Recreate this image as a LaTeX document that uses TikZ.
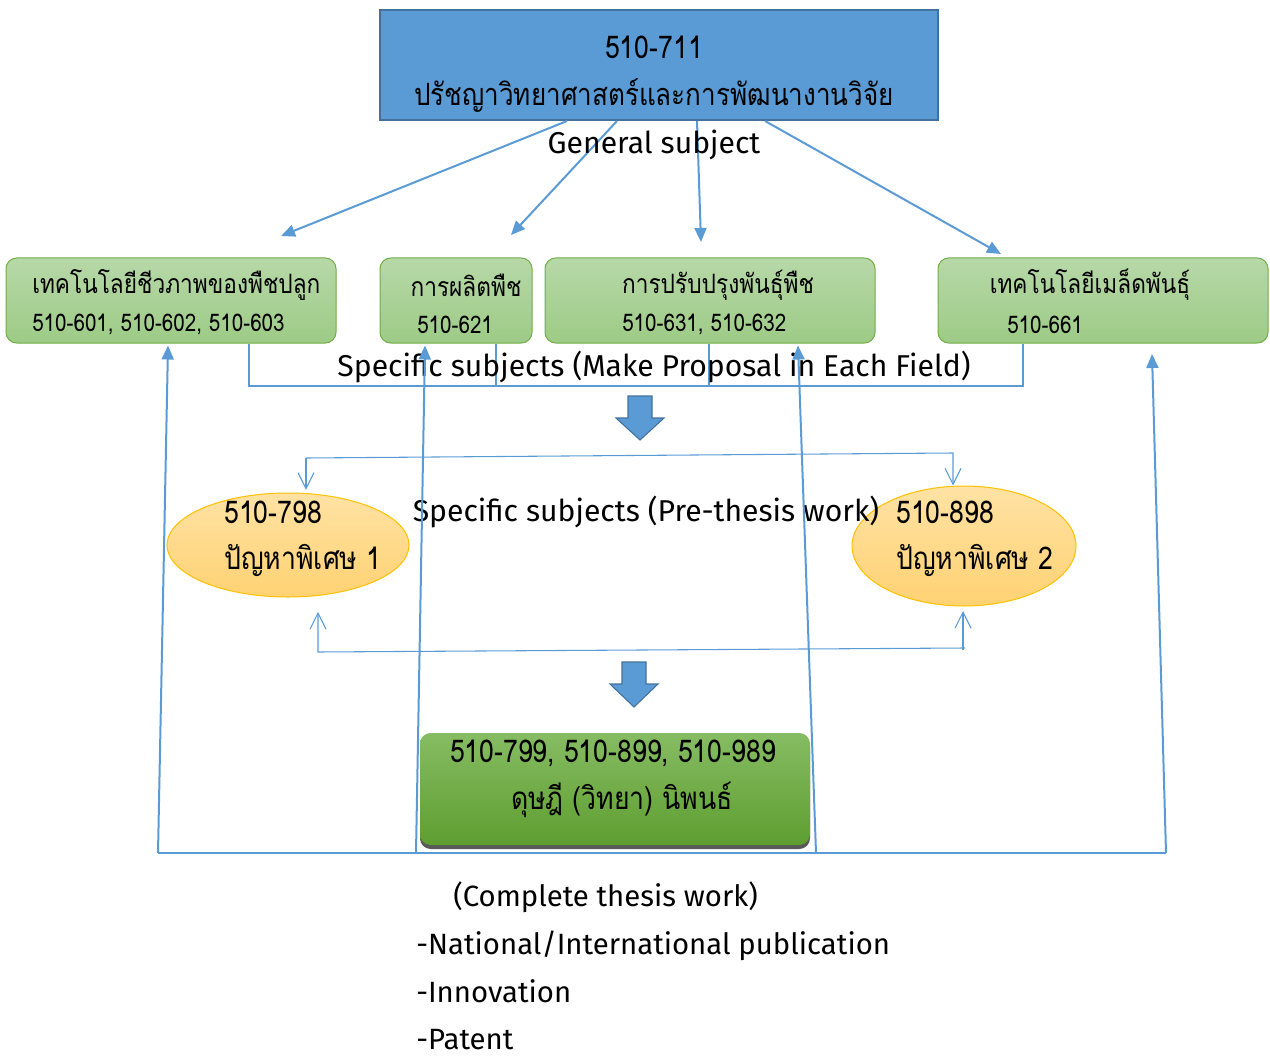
\documentclass[tikz,border=0pt]{standalone}
\usepackage{fontspec}
\setmainfont[Script=Thai,FakeStretch=0.85]{Loma}
\newfontfamily\latfont{Fira Sans}
\usetikzlibrary{arrows.meta,shadows,shapes.geometric}
\definecolor{accblue}{HTML}{5B9BD5}
\definecolor{accblued}{HTML}{41719C}
\definecolor{gtop}{HTML}{B7D8A8}
\definecolor{gbot}{HTML}{9DCB86}
\definecolor{gline}{HTML}{70AD47}
\definecolor{otop}{HTML}{FFE2A4}
\definecolor{obot}{HTML}{FFD273}
\definecolor{oline}{HTML}{FFC000}
\definecolor{dgtop}{HTML}{86BC63}
\definecolor{dgbot}{HTML}{5E9E30}
\tikzset{
  txt/.style={inner sep=0pt, font=\fontsize{20}{24}\selectfont},
  bigtxt/.style={inner sep=0pt, font=\fontsize{23.5}{28}\selectfont},
  numtxt/.style={inner sep=0pt, font=\fontsize{18.2}{22}\selectfont},
  lattxt/.style={inner sep=0pt, font=\latfont\fontsize{22.6}{27}\selectfont},
  endtxt/.style={inner sep=0pt, font=\latfont\fontsize{22}{26}\selectfont},
  topbox/.style={draw=accblued, line width=1.5pt, fill=accblue, minimum width=418.5pt, minimum height=82.5pt, inner sep=0pt},
  gbox/.style={draw=gline, line width=0.75pt, top color=gtop, bottom color=gbot, rounded corners=8pt, minimum height=63.75pt, inner sep=0pt},
  obox/.style={draw=oline, line width=0.75pt, ellipse, top color=otop, bottom color=obot, inner sep=0pt},
  fbox/.style={top color=dgtop, bottom color=dgbot, rounded corners=8pt, minimum width=292.5pt, minimum height=84pt, inner sep=0pt,
    drop shadow={shadow xshift=0pt, shadow yshift=-3pt, fill=black!65, opacity=1}},
  thick blue/.style={draw=accblue, line width=1.5pt},
  thin blue/.style={draw=accblue, line width=0.8pt},
  fillarrow/.style={-{Triangle[length=10.5pt,width=9pt]}},
  openarrow/.style={-{Straight Barb[length=12pt,width=12pt]}},
  blockarrow/.style={draw=accblued, line width=0.8pt, fill=accblue},
}
\begin{document}
\begin{tikzpicture}[x=0.75pt,y=-0.75pt]
\useasboundingbox (0,0) rectangle (1270,1059);
% top box
\node[topbox] (top) at (659,65) {};
\node[bigtxt] (t1) at (654,47) {510-711};
\node[bigtxt, font=\fontsize{23}{28}\selectfont] (t2) at (654,96) {ปรัชญาวิทยาศาสตร์และการพัฒนางานวิจัย};
% green boxes
\node[gbox, minimum width=247.5pt] (b1) at (171,300.5) {};
\node[gbox, minimum width=114pt] (b2) at (456,300.5) {};
\node[gbox, minimum width=247.5pt] (b3) at (710,300.5) {};
\node[gbox, minimum width=247.5pt] (b4) at (1103,300.5) {};
\node[txt, anchor=west] (b1a) at (32,285) {เทคโนโลยีชีวภาพของพืชปลูก};
\node[numtxt, anchor=west] (b1b) at (32,325) {510-601, 510-602, 510-603};
\node[txt] (b2a) at (466,285) {การผลิตพืช};
\node[numtxt, anchor=west] (b2b) at (417,325) {510-621};
\node[txt] (b3a) at (718,285) {การปรับปรุงพันธุ์พืช};
\node[numtxt, anchor=west] (b3b) at (622,325) {510-631, 510-632};
\node[txt] (b4a) at (1090,285) {เทคโนโลยีเมล็ดพันธุ์};
\node[numtxt, anchor=west] (b4b) at (1007,325) {510-661};
% arrows from top
\coordinate (e1) at (281,236);
\coordinate (e2) at (511,235);
\coordinate (e3) at (701,242);
\coordinate (e4) at (1001,254);
\draw[thick blue, fillarrow] ([xshift=-69pt]top.south) -- (e1);
\draw[thick blue, fillarrow] ([xshift=-31.5pt]top.south) -- (e2);
\draw[thick blue, fillarrow] ([xshift=28.5pt]top.south) -- (e3);
\draw[thick blue, fillarrow] ([xshift=79.5pt]top.south) -- (e4);
\node[lattxt] (gs) at (654,145) {General subject};
% thin collector lines
\coordinate (c1) at (249,386);
\coordinate (c4) at (1023,386);
\draw[thin blue] ([xshift=58.5pt]b1.south) -- (c1) -- (c4) -- ([xshift=-60pt]b4.south);
\draw[thin blue] ([xshift=30pt]b2.south) -- ([xshift=30pt]b2.south |- c1);
\draw[thin blue] ([xshift=-0.75pt]b3.south) -- ([xshift=-0.75pt]b3.south |- c1);
\node[lattxt] (ss1) at (654,367) {Specific subjects (Make Proposal in Each Field)};
% block arrow 1
\draw[blockarrow] (628,396) -- (652,396) -- (652,418) -- (664,418) -- (640,440) -- (616,418) -- (628,418) -- cycle;
% ellipses
\node[obox, minimum width=181.5pt, minimum height=78pt] (o1) at (288,545) {};
\node[obox, minimum width=168pt, minimum height=90pt] (o2) at (964,546) {};
\node[bigtxt, anchor=west] (o1a) at (224,512) {510-798};
\node[bigtxt, anchor=west] (o1b) at (224,560) {ปัญหาพิเศษ 1};
\node[bigtxt, anchor=west] (o2a) at (896,512) {510-898};
\node[bigtxt, anchor=west] (o2b) at (896,560) {ปัญหาพิเศษ 2};
\node[lattxt] (ss2) at (646,512) {Specific subjects (Pre-thesis work)};
% open arrow connectors
\coordinate (u1) at (306,458);
\coordinate (u2) at (953,453);
\draw[thin blue, openarrow] (u1) -- (u2) -- (o2.north -| u2);
\draw[thin blue, openarrow] (u1) -- ([yshift=2pt]o1.north -| u1);
\coordinate (l1) at (318,652);
\coordinate (l2) at (965,648);
\coordinate (l3) at (963,650);
\draw[thin blue, openarrow] (l2) -- (l1) -- (318,612);
\draw[thin blue, openarrow] (l3) -- (963,611);
% block arrow 2
\draw[blockarrow] (622,662) -- (646,662) -- (646,684) -- (658,684) -- (634,707) -- (610,684) -- (622,684) -- cycle;
% final box
\node[fbox] (fin) at (615,789) {};
\node[bigtxt] (f1) at (613,753) {510-799, 510-899, 510-989};
\node[bigtxt] (f2) at (622,800) {ดุษฎี (วิทยา) นิพนธ์};
% feedback lines
\coordinate (q1) at (158,853);
\coordinate (q2) at (416,853);
\coordinate (q3) at (816,853);
\coordinate (q4) at (1166,853);
\coordinate (e5) at (1152,354);
\draw[thick blue, fillarrow] (q1) -- ([xshift=-2.25pt,yshift=-1.5pt]b1.south);
\draw[thick blue] (q1) -- (q4);
\draw[thick blue, fillarrow] (q4) -- (e5);
\draw[thick blue, fillarrow] (q2) -- ([xshift=-23.25pt,yshift=-1.5pt]b2.south);
\draw[thick blue, fillarrow] (q3) -- ([xshift=66pt,yshift=-1.5pt]b3.south);
% bottom texts
\node[endtxt, anchor=base west] (n1) at (453,906) {(Complete thesis work)};
\node[endtxt, anchor=base west] (n2) at (416,954) {-National/International publication};
\node[endtxt, anchor=base west] (n3) at (416,1002) {-Innovation};
\node[endtxt, anchor=base west] (n4) at (416,1049) {-Patent};
\end{tikzpicture}
\end{document}
